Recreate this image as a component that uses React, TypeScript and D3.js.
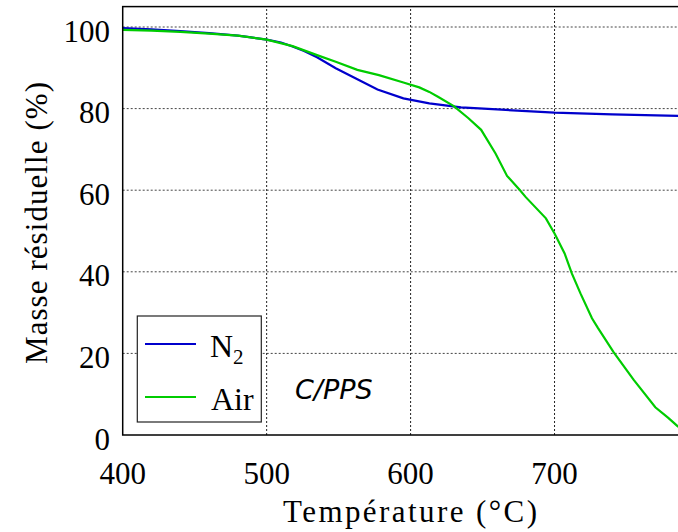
import React from 'react';
import * as d3 from 'd3';

// Thermogravimetric data
const tempN2 = [400, 420, 440, 460, 480, 488, 500, 510, 518, 526, 535, 548, 562, 577, 595, 613, 635, 660, 700, 740, 786];
const massN2 = [99.7, 99.4, 99.0, 98.5, 97.9, 97.5, 96.9, 96.2, 95.2, 94.1, 92.6, 89.9, 87.4, 84.7, 82.5, 81.3, 80.3, 79.8, 79.0, 78.6, 78.2];

const tempAir = [400, 420, 440, 460, 480, 500, 518, 535, 548, 563, 578, 595, 606, 613, 619, 630, 640, 649, 659, 667, 676, 680, 694, 700, 707, 712, 718, 726, 730, 741, 755, 770, 779, 786];
const massAir = [99.3, 99.1, 98.8, 98.4, 97.9, 96.9, 95.3, 93.1, 91.5, 89.5, 88.2, 86.4, 85.2, 84.1, 82.9, 80.6, 77.7, 74.8, 69.0, 63.5, 60.0, 58.3, 53.1, 49.4, 44.5, 39.6, 34.7, 28.6, 26.3, 20.3, 13.5, 6.8, 4.2, 2.0];

const xTicks = [400, 500, 600, 700];
const yTicks = [0, 20, 40, 60, 80, 100];

const seriesNames = ['N', 'Air'];
const seriesColors = ['#0000cc', '#00cc00'];

const W = 678;
const H = 532;

const App = () => {
  const x = d3.scaleLinear().domain([400, 790]).range([122.7, 684.1]);
  const y = d3.scaleLinear().domain([0, 105]).range([435, 6.6]);

  const line = d3.line<[number, number]>()
    .x(d => x(d[0]))
    .y(d => y(d[1]));

  const n2 = tempN2.map((t, i) => [t, massN2[i]] as [number, number]);
  const air = tempAir.map((t, i) => [t, massAir[i]] as [number, number]);

  const [x0, x1] = x.range();
  const [y0, y1] = y.range();
  const serif = '"Liberation Serif", "Times New Roman", serif';

  return (
    <div style={{ position: 'absolute', left: 0, top: 0 }}>
      <svg width={W} height={H} style={{ display: 'block', background: '#fff' }}>
        <defs>
          <clipPath id="plot">
            <rect x={x0} y={y1} width={x1 - x0} height={y0 - y1} />
          </clipPath>
        </defs>

        {/* grid */}
        {yTicks.filter(v => v > 0).map(v => (
          <line key={'gy' + v} x1={x0} x2={x1} y1={y(v)} y2={y(v)}
            stroke="#444" strokeWidth={1} strokeDasharray="2,2" />
        ))}
        {xTicks.filter(v => v > 400).map(v => (
          <line key={'gx' + v} x1={x(v)} x2={x(v)} y1={y0} y2={y1}
            stroke="#222" strokeWidth={1} strokeDasharray="2,2" />
        ))}

        {/* curves */}
        <g clipPath="url(#plot)">
          <path d={line(n2) || ''} fill="none" stroke={seriesColors[0]} strokeWidth={2.2} />
          <path d={line(air) || ''} fill="none" stroke={seriesColors[1]} strokeWidth={2.2} />
        </g>

        {/* frame */}
        <rect x={x0} y={y1} width={x1 - x0} height={y0 - y1} fill="none" stroke="#000" strokeWidth={1.5} />

        {/* tick labels */}
        {yTicks.map(v => (
          <text key={'ty' + v} x={110} y={y(v) + 14.5} textAnchor="end"
            fontFamily={serif} fontSize={31} fill="#000">{v}</text>
        ))}
        {xTicks.map(v => (
          <text key={'tx' + v} x={x(v)} y={484} textAnchor="middle"
            fontFamily={serif} fontSize={31} fill="#000">{v}</text>
        ))}

        {/* axis labels */}
        <text x={410} y={522} textAnchor="middle" fontFamily={serif} fontSize={31}
          textLength={254} lengthAdjust="spacing">Température (°C)</text>
        <text transform="translate(47,223) rotate(-90)" textAnchor="middle" fontFamily={serif}
          fontSize={31} textLength={282} lengthAdjust="spacing">Masse résiduelle (%)</text>

        {/* legend */}
        <rect x={137.3} y={316} width={124} height={106} fill="#fff" stroke="#222" strokeWidth={1.2} />
        <line x1={145} x2={196} y1={344} y2={344} stroke={seriesColors[0]} strokeWidth={2.2} />
        <line x1={145} x2={196} y1={397} y2={397} stroke={seriesColors[1]} strokeWidth={2.2} />
        <text x={210} y={356.5} fontFamily={serif} fontSize={32}>
          {seriesNames[0]}<tspan fontSize={21} dy={7}>2</tspan>
        </text>
        <text x={211} y={410} fontFamily={serif} fontSize={32}>{seriesNames[1]}</text>

        <text x={295} y={399} fontFamily='"DejaVu Sans", sans-serif' fontStyle="italic" fontSize={27}>C/PPS</text>
      </svg>
    </div>
  );
};

export default App;
